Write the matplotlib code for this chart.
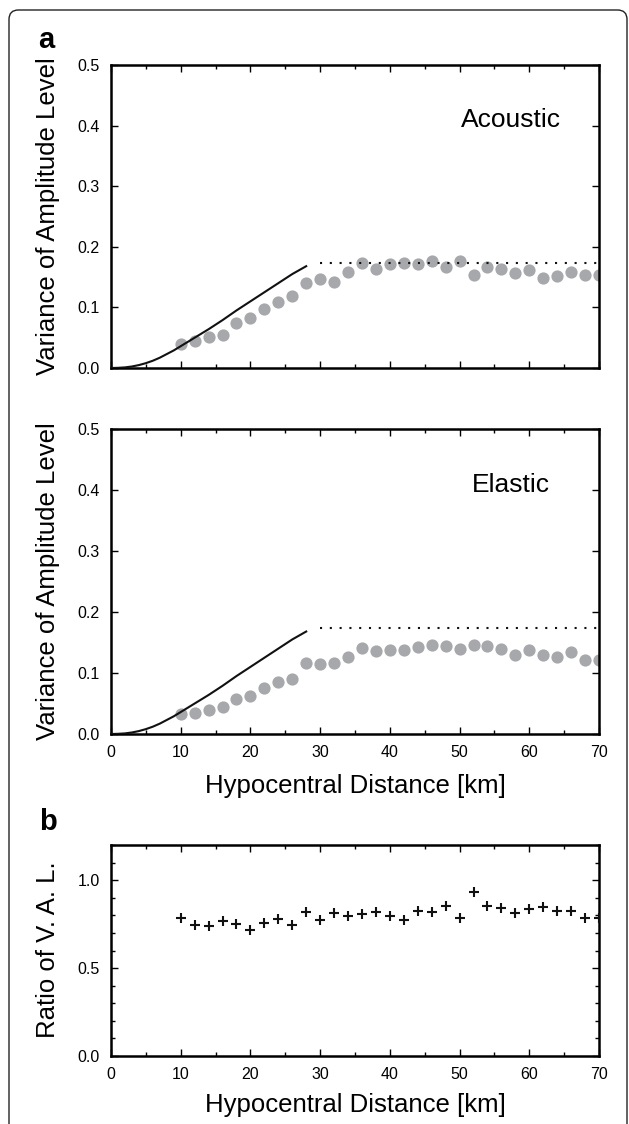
import numpy as np
import matplotlib.pyplot as plt
from matplotlib.patches import FancyBboxPatch
from matplotlib.ticker import MultipleLocator

plt.rcParams['font.family'] = ['Liberation Sans', 'DejaVu Sans']

# ---------------- data
dist = [10, 12, 14, 16, 18, 20, 22, 24, 26, 28, 30, 32, 34, 36, 38, 40,
        42, 44, 46, 48, 50, 52, 54, 56, 58, 60, 62, 64, 66, 68, 70]

acoustic = [0.039, 0.044, 0.051, 0.054, 0.075, 0.082, 0.097, 0.109, 0.118, 0.140,
            0.147, 0.142, 0.158, 0.173, 0.163, 0.171, 0.174, 0.172, 0.176, 0.166,
            0.176, 0.154, 0.166, 0.163, 0.156, 0.162, 0.148, 0.151, 0.159, 0.153, 0.154]

elastic = [0.032, 0.035, 0.040, 0.044, 0.058, 0.062, 0.076, 0.086, 0.090, 0.116,
           0.115, 0.117, 0.127, 0.141, 0.136, 0.137, 0.138, 0.143, 0.146, 0.144,
           0.139, 0.146, 0.144, 0.139, 0.129, 0.137, 0.129, 0.127, 0.134, 0.122, 0.122]

ratio = [0.787, 0.743, 0.740, 0.768, 0.749, 0.717, 0.758, 0.781, 0.743, 0.817,
         0.774, 0.815, 0.798, 0.806, 0.821, 0.798, 0.772, 0.826, 0.817, 0.855,
         0.783, 0.930, 0.853, 0.843, 0.811, 0.836, 0.847, 0.826, 0.826, 0.787, 0.787]

theory_x = [0, 1, 2, 3, 4, 5, 6, 7, 8, 9, 10, 12, 14, 16, 18, 20, 22, 24, 26, 28]
theory_y = [0, 0.0003, 0.001, 0.0025, 0.0048, 0.008, 0.012, 0.017, 0.023, 0.029,
            0.036, 0.050, 0.064, 0.079, 0.095, 0.110, 0.125, 0.140, 0.155, 0.168]
sat_x = [30, 70]
sat_level = 0.173

panel_names = ['Acoustic', 'Elastic']

W, H = 629, 1124
fig = plt.figure(figsize=(W / 100, H / 100), dpi=100)

def box(left, top, right, bottom):
    return [left / W, 1 - bottom / H, (right - left) / W, (bottom - top) / H]

def style(ax):
    for s in ax.spines.values():
        s.set_linewidth(1.8)
    ax.tick_params(which='both', direction='in', top=True, right=True,
                   labelsize=11.5, pad=8, width=1.0)
    ax.tick_params(which='major', length=5)
    ax.tick_params(which='minor', length=3)
    ax.set_xlim(0, 70)
    ax.xaxis.set_major_locator(MultipleLocator(10))
    ax.xaxis.set_minor_locator(MultipleLocator(5))

ax1 = fig.add_axes(box(111, 65, 599, 368))
ax2 = fig.add_axes(box(111, 429, 599, 734))
ax3 = fig.add_axes(box(111, 845, 599, 1056))

for ax, vals, name in zip([ax1, ax2], [acoustic, elastic], panel_names):
    style(ax)
    ax.plot(dist, vals, 'o', color='#a7a8ab', ms=8.8, mec='none', clip_on=True, zorder=2)
    ax.plot(theory_x, theory_y, '-', color='#111111', lw=1.5, zorder=3)
    ax.plot(sat_x, [sat_level, sat_level], color='#111111', lw=1.5,
            dashes=(1, 3.7), zorder=3)
    ax.set_ylim(0, 0.5)
    ax.yaxis.set_major_locator(MultipleLocator(0.1))
    ax.yaxis.set_major_formatter(plt.FormatStrFormatter('%.1f'))
    ax.text(57.4, 0.409, name, ha='center', va='center', fontsize=19)

ax1.tick_params(labelbottom=False)
ax2.set_xlabel('Hypocentral Distance [km]', fontsize=18.5, labelpad=10)

style(ax3)
ax3.plot(dist, ratio, '+', color='#111111', ms=7, mew=1.5, zorder=3)
ax3.set_ylim(0, 1.2)
ax3.yaxis.set_major_locator(MultipleLocator(0.5))
ax3.yaxis.set_minor_locator(MultipleLocator(0.1))
ax3.yaxis.set_major_formatter(plt.FormatStrFormatter('%.1f'))
ax3.set_xlabel('Hypocentral Distance [km]', fontsize=18.5, labelpad=8)

# y labels and panel letters
fig.text(48 / W, 1 - 216 / H, 'Variance of Amplitude Level', rotation=90,
         ha='center', va='center', fontsize=18.5)
fig.text(48 / W, 1 - 581 / H, 'Variance of Amplitude Level', rotation=90,
         ha='center', va='center', fontsize=18.5)
fig.text(48 / W, 1 - 950 / H, 'Ratio of V. A. L.', rotation=90,
         ha='center', va='center', fontsize=18.5)
fig.text(46 / W, 1 - 40 / H, 'a', ha='center', va='center', fontsize=21, fontweight='bold')
fig.text(48 / W, 1 - 822 / H, 'b', ha='center', va='center', fontsize=21, fontweight='bold')

# rounded outer frame
frame = FancyBboxPatch((9 / W, -0.05), (627 - 9) / W, 1 - 10 / H + 0.05,
                       boxstyle='round,pad=0,rounding_size=0.015',
                       transform=fig.transFigure, fill=False, lw=1.0,
                       ec='#222222', mutation_aspect=W / H)
fig.patches.append(frame)

fig.savefig('out.png', dpi=100)
